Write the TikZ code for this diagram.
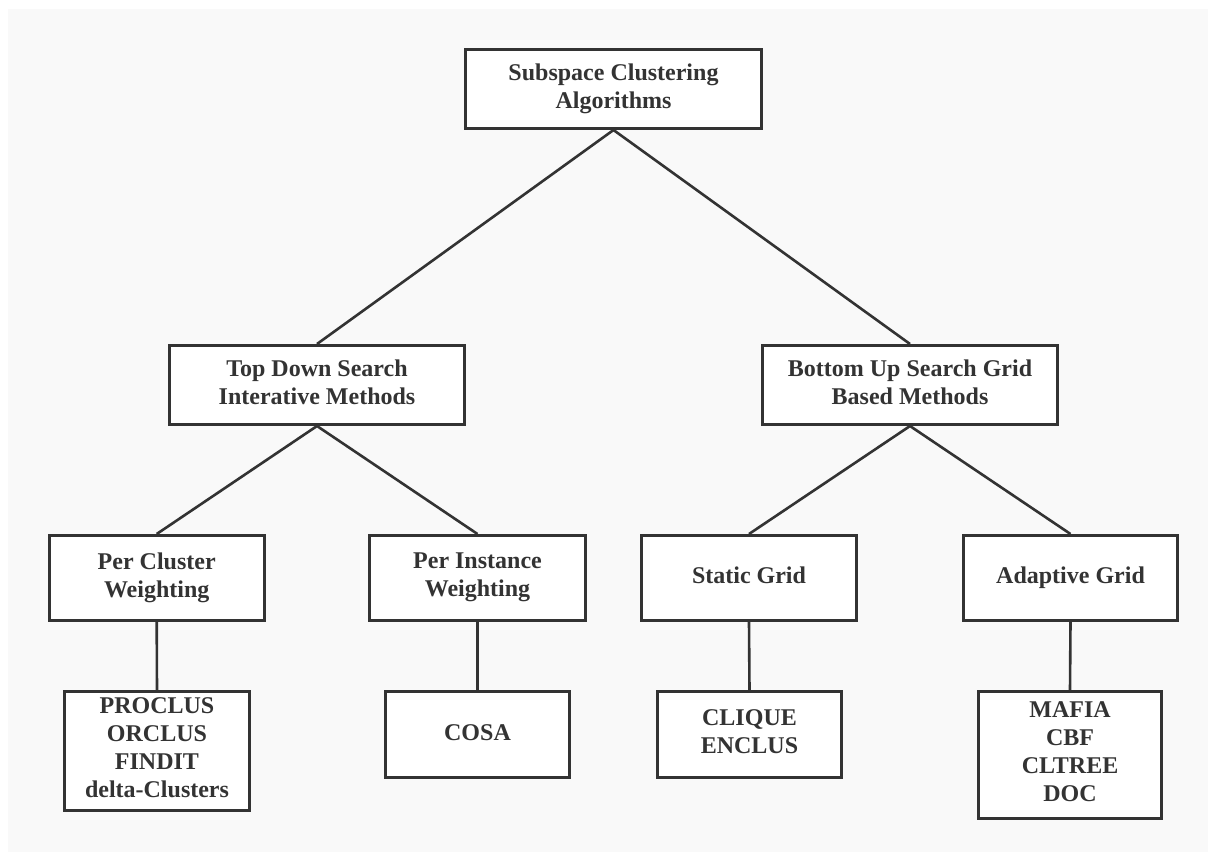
\documentclass[tikz,border=0pt]{standalone}
\usepackage{fontspec}
\setmainfont{Liberation Serif}
\definecolor{bgray}{HTML}{F9F9F9}
\definecolor{ink}{HTML}{333333}
\newcommand\linestrut{\rule[-6pt]{0pt}{23pt}}
\begin{document}
\begin{tikzpicture}[x=1pt,y=1pt,
  box/.style={draw=ink, line width=3pt, fill=white, text=ink, align=center,
    font=\fontsize{24}{28}\selectfont\bfseries, inner sep=0pt,
    execute at begin node=\linestrut, execute at end node=\linestrut},
  conn/.style={draw=ink, line width=2.6pt}]
\useasboundingbox (0,0) rectangle (1208,-852);
\fill[white] (0,0) rectangle (1208,-852);
\fill[bgray] (8,-9) rectangle (1208,-852);
\node[box, minimum width=296pt, minimum height=79pt] (root) at (613.5,-89) {Subspace Clustering\\Algorithms};
\node[box, minimum width=295pt, minimum height=79pt] (td) at (317,-385) {Top Down Search\\Interative Methods};
\node[box, minimum width=295pt, minimum height=79pt] (bu) at (910,-385) {Bottom Up Search Grid\\Based Methods};
\node[box, minimum width=215pt, minimum height=85pt] (pc) at (156.7,-578) {Per Cluster\\Weighting};
\node[box, minimum width=216pt, minimum height=85pt] (pi) at (477.5,-578) {Per Instance\\Weighting};
\node[box, minimum width=215pt, minimum height=85pt] (sg) at (749,-578) {Static Grid};
\node[box, minimum width=214pt, minimum height=85pt] (ag) at (1070.5,-578) {Adaptive Grid};
\node[box, minimum width=185pt, minimum height=119pt] (l1) at (157,-751) {PROCLUS\\ORCLUS\\FINDIT\\delta-Clusters};
\node[box, minimum width=184pt, minimum height=86pt] (l2) at (477.5,-734.5) {COSA};
\node[box, minimum width=184pt, minimum height=86pt] (l3) at (749.5,-734.5) {CLIQUE\\ENCLUS};
\node[box, minimum width=183pt, minimum height=127pt] (l4) at (1070,-755) {MAFIA\\CBF\\CLTREE\\DOC};
\draw[conn] (root.south) -- (td.north);
\draw[conn] (root.south) -- (bu.north);
\draw[conn] (td.south) -- (pc.north);
\draw[conn] (td.south) -- (pi.north);
\draw[conn] (bu.south) -- (sg.north);
\draw[conn] (bu.south) -- (ag.north);
\draw[conn] (pc.south) -- (l1.north);
\draw[conn] (pi.south) -- (l2.north);
\draw[conn] (sg.south) -- (l3.north);
\draw[conn] (ag.south) -- (l4.north);
\end{tikzpicture}
\end{document}
